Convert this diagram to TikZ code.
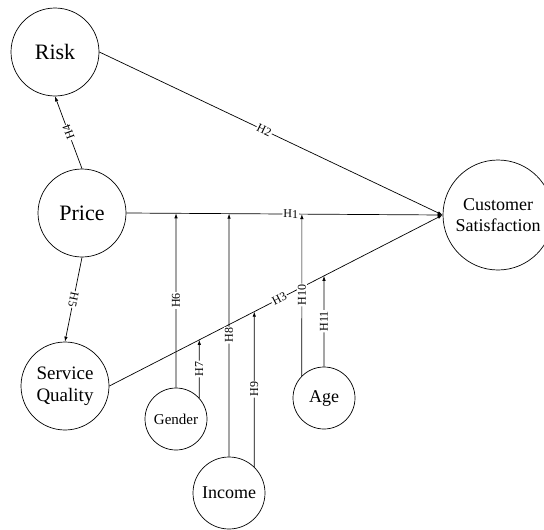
\documentclass[tikz,border=0pt]{standalone}
\usepackage{fontspec}
\setmainfont{Liberation Serif}
\usetikzlibrary{arrows.meta}

\begin{document}
\begin{tikzpicture}[x=1pt, y=-1pt, line width=.7pt, >={Latex[length=5pt,width=3.5pt]}]
\tikzstyle{var} = [circle, draw, inner sep=0pt]
\tikzstyle{hyp} = [fill=white, inner sep=1pt, sloped, allow upside down, font=\fontsize{12}{12}\selectfont]
\useasboundingbox (0,0) rectangle (544,530);
\clip (0,0) rectangle (544,530);

\node [var, minimum size=88pt, font=\fontsize{22}{24}\selectfont] (risk) at (55, 52) {Risk};
\node [var, minimum size=88pt, font=\fontsize{22}{24}\selectfont] (price) at (82, 213) {Price};
\node [var, minimum size=88pt, align=center, font=\fontsize{19}{22}\selectfont] (sq) at (65, 386) {Service\\Quality};
\node [var, minimum size=110pt, align=center, font=\fontsize{18}{21}\selectfont] (cs) at (498, 215) {Customer\\Satisfaction};
\node [var, minimum size=62pt, font=\fontsize{15}{17}\selectfont] (gender) at (176, 419) {Gender};
\node [var, minimum size=72pt, font=\fontsize{18}{20}\selectfont] (income) at (229, 493) {Income};
\node [var, minimum size=62pt, font=\fontsize{18}{20}\selectfont] (age) at (324, 398) {Age};

% direct paths
\draw [->] (price.east) -- node [hyp, pos=.52] {H1} (cs.west);
\draw [->] (risk.east) -- node [hyp, pos=.48] {H2} (cs.west);
\draw [->] (sq.east) -- node [hyp, pos=.51] {H3} (cs.west);
\draw [->] (price.north) -- node [hyp] {H4} (risk.south);
\draw [->] (price.south) -- node [hyp] {H5} (sq.north);

% moderators
\coordinate (m6) at (intersection of price.east--cs.west and gender.north--gender.south);
\coordinate (m7) at (intersection of sq.east--cs.west and gender.42--gender.-42);
\coordinate (m8) at (intersection of price.east--cs.west and income.north--income.south);
\coordinate (m9) at (intersection of sq.east--cs.west and income.46--income.-46);
\coordinate (m10) at (intersection of price.east--cs.west and age.135--age.-135);
\coordinate (m11) at (intersection of sq.east--cs.west and age.north--age.south);

\draw [->] (gender.north) -- node [hyp] {H6} (m6);
\draw [->] (gender.42) -- node [hyp] {H7} (m7);
\draw [->] (income.north) -- node [hyp] {H8} (m8);
\draw [->] (income.46) -- node [hyp] {H9} (m9);
\draw [->] (age.135) -- node [hyp] {H10} (m10);
\draw [->] (age.north) -- node [hyp] {H11} (m11);

% \foreach \from/\to in {risk/cs, price/cs, sq/cs}
% \draw [->] (\from) -- (\to);
\end{tikzpicture}
\end{document}
